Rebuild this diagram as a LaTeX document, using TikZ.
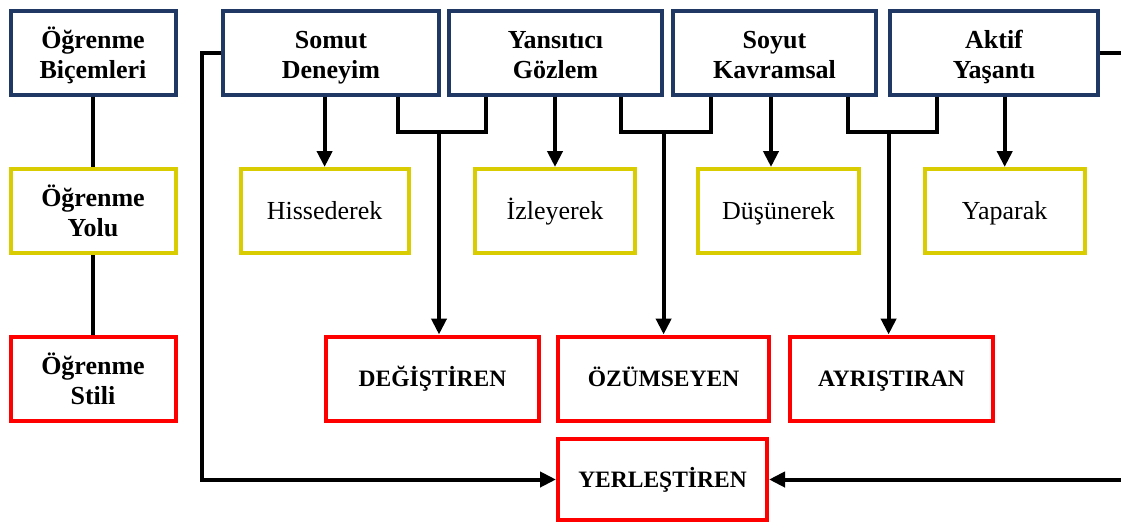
\documentclass[tikz,border=0pt]{standalone}
\usepackage{fontspec}
\setmainfont{Liberation Serif}
\usetikzlibrary{arrows.meta}
\definecolor{navy}{HTML}{1F3864}
\definecolor{kyellow}{HTML}{D9CC00}
\definecolor{kred}{HTML}{FF0000}
\newcommand{\bigfont}{\fontsize{26}{30}\selectfont}
\newcommand{\capfont}{\fontsize{23.5}{28}\selectfont\bfseries}
% two lines of text, with a fixed top and bottom
\newcommand{\twol}[2]{\rule{0pt}{28pt}#1\\#2\rule[-7pt]{0pt}{7pt}}

\begin{document}
\begin{tikzpicture}[x=1pt,y=-1pt,
    box/.style={draw,line width=4pt,minimum height=84pt,inner sep=0pt,align=center,font=\bigfont},
    oneline/.style={text height=23pt,text depth=7pt},
    form/.style={box,draw=navy,font=\bigfont\bfseries},
    way/.style={box,oneline,draw=kyellow},
    kind/.style={box,oneline,draw=kred,font=\capfont},
    link/.style={line width=4pt},
    arr/.style={link,-{Triangle[length=16pt,width=15pt]}}]
    \useasboundingbox (0,0) rectangle (1121,525);
    % left column
    \node[form,minimum width=165pt] (bicem) at (93,52.5) {\twol{Öğrenme}{Biçemleri}};
    \node[box,draw=kyellow,minimum width=165pt,font=\bigfont\bfseries] (yolu) at (93,211) {\twol{Öğrenme}{Yolu}};
    \node[box,draw=kred,minimum width=165pt,font=\bigfont\bfseries] (stili) at (93,378.5) {\twol{Öğrenme}{Stili}};
    % top row
    \node[form,minimum width=216pt] (somut) at (331,52.5) {\twol{Somut}{Deneyim}};
    \node[form,minimum width=213pt] (yansit) at (555.5,52.5) {\twol{Yansıtıcı}{Gözlem}};
    \node[form,minimum width=203pt] (soyut) at (774.5,52.5) {\twol{Soyut}{Kavramsal}};
    \node[form,minimum width=208pt] (aktif) at (994,52.5) {\twol{Aktif}{Yaşantı}};
    % middle row
    \node[way,minimum width=168pt] (hisse) at (324.6,211) {Hissederek};
    \node[way,minimum width=160pt] (izle) at (555,211) {İzleyerek};
    \node[way,minimum width=161pt] (dusun) at (778.5,211) {Düşünerek};
    \node[way,minimum width=160pt] (yapar) at (1004.7,211) {Yaparak};
    % bottom rows
    \node[kind,minimum width=213pt] (degis) at (432.5,378.5) {DEĞİŞTİREN};
    \node[kind,minimum width=211pt] (ozum) at (663.5,378.5) {ÖZÜMSEYEN};
    \node[kind,minimum width=203pt] (ayris) at (891.5,378.5) {AYRIŞTIRAN};
    \node[kind,minimum width=209pt,minimum height=81pt] (yerle) at (662.5,479.5) {YERLEŞTİREN};

    \coordinate (m1) at (439,132);
    \coordinate (m2) at (663.6,132);
    \coordinate (m3) at (888.6,132);
    \coordinate (dtop) at ([xshift=-7.5pt]dusun.north);
    \coordinate (lp) at (202,300);
    \coordinate (rp) at (1124,300);

    \draw[link] (bicem) -- (yolu);
    \draw[link] (yolu) -- (stili);

    \draw[arr] (hisse.north |- somut.south) -- (hisse.north);
    \draw[arr] (izle.north |- yansit.south) -- (izle.north);
    \draw[arr] (dtop |- soyut.south) -- (dtop);
    \draw[arr] (yapar.north |- aktif.south) -- (yapar.north);

    \draw[link] ([xshift=66.5pt]somut.south) |- (m1) -| ([xshift=-69.5pt]yansit.south);
    \draw[link] ([xshift=65.5pt]yansit.south) |- (m2) -| ([xshift=-63.5pt]soyut.south);
    \draw[link] ([xshift=73pt]soyut.south) |- (m3) -| ([xshift=-57pt]aktif.south);
    \draw[arr] (m1) -- (m1 |- degis.north);
    \draw[arr] (m2) -- (m2 |- ozum.north);
    \draw[arr] (m3) -- (m3 |- ayris.north);

    \draw[arr] (somut.west) -| (lp) |- (yerle.west);
    \draw[arr] (aktif.east) -| (rp) |- (yerle.east);
  \end{tikzpicture}
\end{document}
